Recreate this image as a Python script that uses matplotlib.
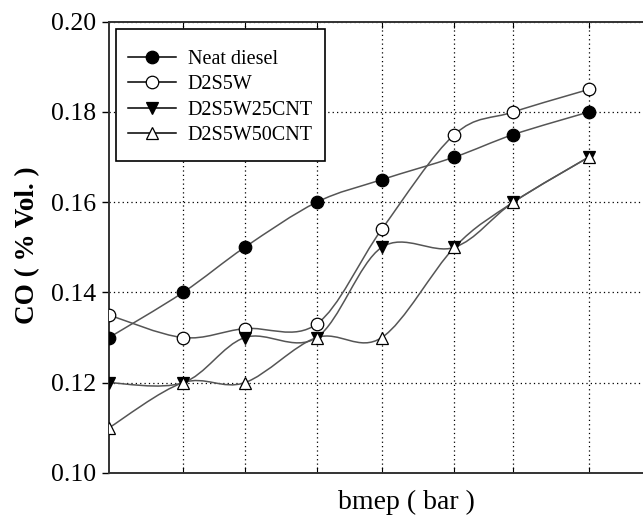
import numpy as np
import matplotlib
matplotlib.use('Agg')
import matplotlib.pyplot as plt
from matplotlib.path import Path
from matplotlib.patches import PathPatch, Rectangle
from matplotlib.lines import Line2D

plt.rcParams['font.family'] = ['Liberation Serif', 'DejaVu Serif']

# bmep points (bar) and CO emissions (% vol.)
bmep = [0.0, 1.08, 1.98, 3.03, 3.98, 5.04, 5.90, 7.0]
neat_diesel = [0.130, 0.140, 0.150, 0.160, 0.165, 0.170, 0.175, 0.180]
d2s5w = [0.135, 0.130, 0.132, 0.133, 0.154, 0.175, 0.180, 0.185]
d2s5w25cnt = [0.120, 0.120, 0.130, 0.130, 0.150, 0.150, 0.160, 0.170]
d2s5w50cnt = [0.110, 0.120, 0.120, 0.130, 0.130, 0.150, 0.160, 0.170]

series = [
    ('Neat diesel', neat_diesel, 'o', 'black'),
    ('D2S5W', d2s5w, 'o', 'white'),
    ('D2S5W25CNT', d2s5w25cnt, 'v', 'black'),
    ('D2S5W50CNT', d2s5w50cnt, '^', 'white'),
]

line_col = '#555555'


def smooth_path(x, y):
    # Catmull-Rom curve through the points, as cubic Bezier segments
    p = np.column_stack([x, y]).astype(float)
    ext = np.vstack([p[0], p, p[-1]])
    verts = [tuple(p[0])]
    codes = [Path.MOVETO]
    for i in range(len(p) - 1):
        p0, p1, p2, p3 = ext[i], ext[i + 1], ext[i + 2], ext[i + 3]
        c1 = p1 + (p2 - p0) / 6
        c2 = p2 - (p3 - p1) / 6
        verts += [tuple(c1), tuple(c2), tuple(p2)]
        codes += [Path.CURVE4] * 3
    return Path(verts, codes)


fig = plt.figure(figsize=(6.43, 5.18), dpi=100)
ax = fig.add_axes([0.1695, 0.087, 0.874, 0.871])

handles = []
for name, vals, mk, face in series:
    ax.add_patch(PathPatch(smooth_path(bmep, vals), facecolor='none',
                           edgecolor=line_col, lw=1.1, zorder=2))
    ax.plot(bmep, vals, ls='none', marker=mk, ms=9, mfc=face,
            mec='black', mew=0.9, zorder=3)
    handles.append(Line2D([], [], color='black', lw=1.1, marker=mk, ms=9,
                          mfc=face, mec='black', mew=0.9, label=name))

ax.set_xlim(0, 8.2)
ax.set_ylim(0.10, 0.20)
ax.set_yticks(np.arange(0.10, 0.201, 0.02))
ax.set_yticklabels(['%.2f' % v for v in np.arange(0.10, 0.201, 0.02)])
ax.set_xticks(bmep[1:])
ax.set_xticklabels([])
ax.tick_params(axis='y', direction='out', length=5, width=1, labelsize=18.5, pad=4)
ax.tick_params(axis='x', direction='in', length=4, top=True)
ax.grid(True, ls=(0, (1, 2.5)), color='black', lw=0.9)

for side in ['left', 'bottom', 'top']:
    ax.spines[side].set_linewidth(1.4)
    ax.spines[side].set_color('#333333')

ax.set_ylabel('CO ( % Vol. )', fontsize=19.5, fontweight='bold')
ax.yaxis.set_label_coords(-0.123, 0.505)
ax.set_xlabel('bmep ( bar )', fontsize=20)
ax.xaxis.set_label_coords(0.53, -0.037)

# legend without its own frame; a taller box is drawn around it below
leg = ax.legend(handles=handles, loc='upper left', fontsize=14.5,
                frameon=False, handlelength=2.4, borderpad=0,
                labelspacing=0.32, handletextpad=0.55, borderaxespad=0,
                bbox_to_anchor=(0.034, 0.938))
leg.set_zorder(6)

fig.canvas.draw()
bb = leg.get_window_extent().transformed(ax.transAxes.inverted())
px = 1.0 / 562
py = 1.0 / 451
frame = Rectangle((bb.x0 - 12 * px, bb.y0 - 16 * py),
                  bb.width + 24 * px, bb.height + 37 * py,
                  transform=ax.transAxes, facecolor='white',
                  edgecolor='black', lw=1.2, zorder=5)
ax.add_patch(frame)

fig.savefig('out.png', dpi=100)
